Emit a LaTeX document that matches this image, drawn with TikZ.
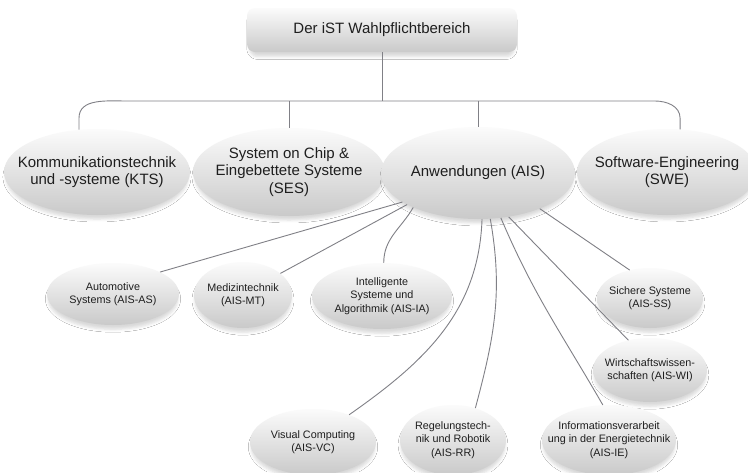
\documentclass[tikz,border=0pt]{standalone}
\usepackage{fontspec}
\setmainfont{Liberation Sans}
\usetikzlibrary{shapes.geometric,shadows.blur}
\definecolor{conn}{RGB}{128,128,134}
\definecolor{txt}{RGB}{30,30,30}
\begin{document}
\begin{tikzpicture}[x=1pt,y=-1pt,
  shade/.style={top color=gray!3, bottom color=gray!42,
    blur shadow={shadow xshift=0pt, shadow yshift=-5pt, shadow blur radius=3pt, shadow scale=0.98, shadow opacity=15}},
  ell/.style={ellipse, inner sep=0pt, draw=none, shade},
  big/.style={font=\fontsize{15}{17.5}\selectfont, align=center, text=txt, inner sep=0pt},
  small/.style={font=\fontsize{10.8}{13.5}\selectfont, align=center, text=txt, inner sep=0pt},
  link/.style={draw=conn, line width=0.9pt},
]
\useasboundingbox (0,0) rectangle (748,472);
\fill[white] (0,0) rectangle (748,472);

% top
\node[rectangle, rounded corners=8pt, minimum width=270pt, minimum height=44pt, shade,
  font=\fontsize{15}{17.5}\selectfont, text=txt] (top) at (382,30) {Der iST Wahlpflichtbereich};

% row 2
\node[ell, minimum width=186pt, minimum height=86pt] (kts) at (97,172) {};
\node[big] (kts-t) at (kts) {Kommunikationstechnik\\und -systeme (KTS)};
\node[ell, minimum width=192pt, minimum height=88pt] (ses) at (289,172) {};
\node[big] (ses-t) at (ses) {System on Chip \&\\Eingebettete Systeme\\(SES)};
\node[ell, minimum width=194pt, minimum height=92pt] (ais) at (478,173) {};
\node[big] (ais-t) at (ais) {Anwendungen (AIS)};
\node[ell, minimum width=180pt, minimum height=86pt] (swe) at (667,172) {};
\node[big] (swe-t) at (swe) {Software-Engineering\\(SWE)};

% row 3
\node[ell, minimum width=132pt, minimum height=62pt] (as) at (113,294) {};
\node[small] (as-t) at (as) {Automotive\\Systems (AIS-AS)};
\node[ell, minimum width=98pt, minimum height=66pt] (mt) at (243,295) {};
\node[small] (mt-t) at (mt) {Medizintechnik\\(AIS-MT)};
\node[ell, minimum width=140pt, minimum height=66pt] (ia) at (382,296) {};
\node[small] (ia-t) at (ia) {Intelligente\\Systeme und\\Algorithmik (AIS-IA)};
\node[ell, minimum width=106pt, minimum height=60pt] (ss) at (650,298) {};
\node[small] (ss-t) at (ss) {Sichere Systeme\\(AIS-SS)};
\node[ell, minimum width=114pt, minimum height=64pt] (wi) at (650,370) {};
\node[small] (wi-t) at (wi) {Wirtschaftswissen-\\schaften (AIS-WI)};
\node[ell, minimum width=126pt, minimum height=66pt] (vc) at (313,442) {};
\node[small] (vc-t) at (vc) {Visual Computing\\(AIS-VC)};
\node[ell, minimum width=106pt, minimum height=70pt] (rr) at (453,440) {};
\node[small] (rr-t) at (rr) {Regelungstech-\\nik und Robotik\\(AIS-RR)};
\node[ell, minimum width=134pt, minimum height=70pt] (ie) at (609,440) {};
\node[small] (ie-t) at (ie) {Informationsverarbeit\\ung in der Energietechnik\\(AIS-IE)};

% bus
\coordinate (bl) at (127,101);
\coordinate (br) at (655,101);
\coordinate (cy) at (0,118);
\draw[link] (kts.113) -- (kts.113 |- cy) to[out=90,in=180] (bl) -- (br)
  to[out=0,in=90] (swe.73 |- cy) -- (swe.73);
\draw[link] (top.south) -- (top.south |- bl);
\draw[link] (ses.north) -- (ses.north |- bl);
\draw[link] (ais.north) -- (ais.north |- bl);

% AIS children
\draw[link] (ais.201) -- (as.25);
\draw[link] (ais.204) -- (mt.30);
\draw[link] (ais.208) to[out=240,in=90] (ia.87);
\draw[link] (ais.275) to[out=268,in=35] (vc.37);
\draw[link] (ais.285) to[out=280,in=75] (rr.55);
\draw[link] (ais.297) to[out=293,in=120] (ie.100);
\draw[link] (ais.305) -- (wi.126);
\draw[link] (ais.330) -- (ss.126);
\end{tikzpicture}
\end{document}
